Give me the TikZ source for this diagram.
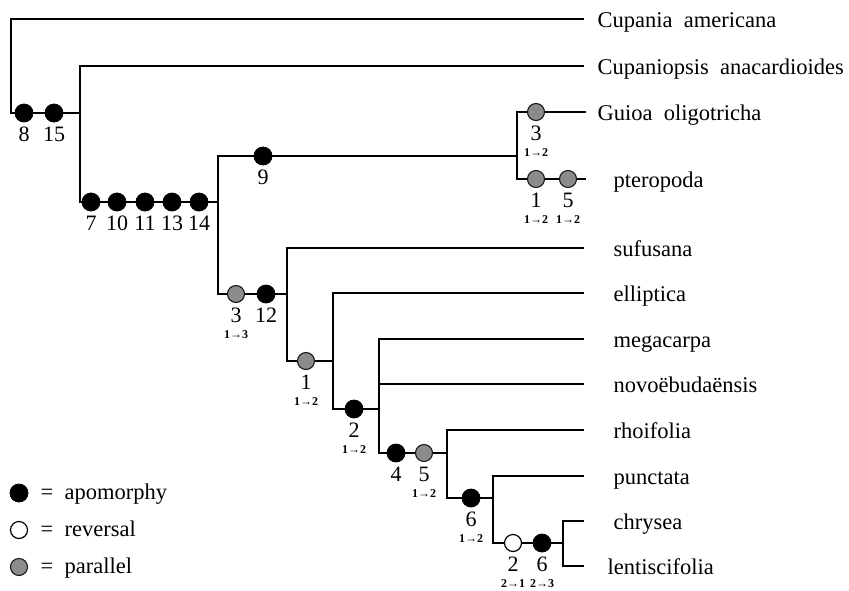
\documentclass[tikz,border=0pt]{standalone}
\usepackage{fontspec}
\setmainfont{Liberation Serif}
\newfontfamily\chgfont{Liberation Serif Bold}
\newcommand{\cmark}[6]{%
  \node[#2] (#1) at (#3,#4) {};
  \node[num] (#1n) at (#3,#4+21) {#5};
  \ifx&#6&\else\node[chg] (#1c) at (#3,#4+41) {#6};\fi
}
\begin{document}
\begin{tikzpicture}[x=1pt,y=-1pt,line width=1.3pt,
  apo/.style={circle,fill=black,draw=black,line width=0.8pt,minimum size=18pt,inner sep=0pt},
  rev/.style={circle,fill=white,draw=black,line width=1.2pt,minimum size=17pt,inner sep=0pt},
  par/.style={circle,fill=black!45,draw=black!90,line width=1.1pt,minimum size=17pt,inner sep=0pt},
  num/.style={font=\fontsize{22}{22}\selectfont,inner sep=0pt},
  chg/.style={font=\chgfont\fontsize{12}{12}\selectfont,inner sep=0pt},
  taxon/.style={font=\fontsize{22.5}{22.5}\selectfont,anchor=base west,inner sep=0pt}]
\useasboundingbox (0,0) rectangle (849,590);
% internal nodes
\coordinate (R) at (11,113);
\coordinate (A) at (80,113);
\coordinate (B) at (218,202);
\coordinate (C) at (517,156);
\coordinate (D) at (287,294);
\coordinate (E) at (333,361);
\coordinate (F) at (379,409);
\coordinate (G) at (447,453);
\coordinate (H) at (493,498);
\coordinate (I) at (563,543);
% tips
\coordinate (t1) at (584,19);
\coordinate (t2) at (584,66);
\coordinate (t3) at (586,112);
\coordinate (t4) at (586,179);
\coordinate (t5) at (584,248);
\coordinate (t6) at (584,293);
\coordinate (t7) at (584,339);
\coordinate (t8) at (584,384);
\coordinate (t9) at (584,430);
\coordinate (t10) at (584,476);
\coordinate (t11) at (584,521);
\coordinate (t12) at (584,566);
% branches
\draw (t1) -| (R) -- (A);
\draw (t2) -| (A) |- (B);
\draw (C) -| (B) |- (D);
\draw (t3) -| (C) |- (t4);
\draw (t5) -| (D) |- (E);
\draw (t6) -| (E) |- (F);
\draw (t7) -| (F) |- (G);
\draw (F |- t8) -- (t8);
\draw (t9) -| (G) |- (H);
\draw (t10) -| (H) |- (I);
\draw (t11) -| (I) |- (t12);
% character marks
\cmark{m8}{apo}{24}{113}{8}{}
\cmark{m15}{apo}{54}{113}{15}{}
\cmark{m7}{apo}{91}{202}{7}{}
\cmark{m10}{apo}{117}{202}{10}{}
\cmark{m11}{apo}{145}{202}{11}{}
\cmark{m13}{apo}{172}{202}{13}{}
\cmark{m14}{apo}{199}{202}{14}{}
\cmark{m9}{apo}{263}{156}{9}{}
\cmark{g3}{par}{536}{112}{3}{1→2}
\cmark{p1}{par}{536}{179}{1}{1→2}
\cmark{p5}{par}{568}{179}{5}{1→2}
\cmark{s3}{par}{236}{294}{3}{1→3}
\cmark{m12}{apo}{266}{294}{12}{}
\cmark{e1}{par}{306}{361}{1}{1→2}
\cmark{f2}{apo}{354}{409}{2}{1→2}
\cmark{m4}{apo}{396}{453}{4}{}
\cmark{g5}{par}{424}{453}{5}{1→2}
\cmark{h6}{apo}{471}{498}{6}{1→2}
\cmark{r2}{rev}{513}{543}{2}{2→1}
\cmark{c6}{apo}{542}{543}{6}{2→3}
% taxa
\node[taxon] (n1) at (597,27) {Cupania\hspace{0.5em}americana};
\node[taxon] (n2) at (597,74) {Cupaniopsis\hspace{0.5em}anacardioides};
\node[taxon] (n3) at (597,120) {Guioa\hspace{0.5em}oligotricha};
\node[taxon] (n4) at (613,187) {pteropoda};
\node[taxon] (n5) at (613,256) {sufusana};
\node[taxon] (n6) at (613,301) {elliptica};
\node[taxon] (n7) at (613,347) {megacarpa};
\node[taxon] (n8) at (613,392) {novoëbudaënsis};
\node[taxon] (n9) at (613,438) {rhoifolia};
\node[taxon] (n10) at (613,484) {punctata};
\node[taxon] (n11) at (613,529) {chrysea};
\node[taxon] (n12) at (607,574) {lentiscifolia};
% legend
\node[apo] (la) at (19,493) {};
\node[rev] (lr) at (19,530) {};
\node[par] (lp) at (19,567) {};
\node[taxon,anchor=base] (ea) at (47,499) {=};
\node[taxon,anchor=base] (er) at (47,536) {=};
\node[taxon,anchor=base] (ep) at (47,573) {=};
\node[taxon] (ta) at (64,499) {apomorphy};
\node[taxon] (tr) at (64,536) {reversal};
\node[taxon] (tp) at (64,573) {parallel};
\end{tikzpicture}
\end{document}
